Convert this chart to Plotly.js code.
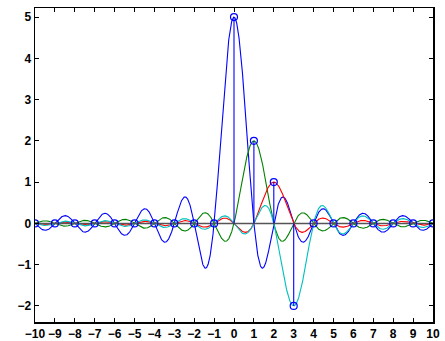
<!DOCTYPE html>
<html><head><meta charset="utf-8">
<script src="https://cdn.plot.ly/plotly-3.0.1.min.js"></script>
<style>html,body{margin:0;padding:0;background:#fff}#c{width:445px;height:341px}</style>
</head><body><div id="c"></div>
<script>
// sample positions and values
const sampleN = [-10,-9,-8,-7,-6,-5,-4,-3,-2,-1,0,1,2,3,4,5,6,7,8,9,10];
const sampleX = [0,0,0,0,0,0,0,0,0,0,5,2,1,-2,0,0,0,0,0,0,0];
// nonzero samples each drawing its own sinc pulse, with its colour
const pulseN = [0, 1, 2, 3];
const pulseA = [5, 2, 1, -2];
const pulseColors = ['#0000ff', '#008000', '#ff0000', '#00bfbf'];
const xTicks = [-10,-9,-8,-7,-6,-5,-4,-3,-2,-1,0,1,2,3,4,5,6,7,8,9,10];
const yTicks = [-2,-1,0,1,2,3,4,5];

function sinc(v){ return v === 0 ? 1 : Math.sin(Math.PI*v)/(Math.PI*v); }
const t = [];
for (let i = 0; i <= 2000; i++) t.push(-10 + i*0.01);

const traces = [];
pulseN.forEach((n, k) => {
  traces.push({x: t, y: t.map(v => pulseA[k]*sinc(v - n)), mode: 'lines',
    line: {color: pulseColors[k], width: 1.1}, hoverinfo: 'skip'});
});
// baseline
traces.push({x: [sampleN[0], sampleN[sampleN.length-1]], y: [0, 0], mode: 'lines',
  line: {color: '#555555', width: 1.5}});
// stems
const sx = [], sy = [];
sampleN.forEach((n, i) => { sx.push(n, n, null); sy.push(0, sampleX[i], null); });
traces.push({x: sx, y: sy, mode: 'lines', line: {color: '#0000ff', width: 1.1}});
traces.push({x: sampleN, y: sampleX, mode: 'markers',
  marker: {symbol: 'circle-open', size: 7, color: '#0000ff', line: {width: 1.2, color: '#0000ff'}}});

const axFont = {family: 'Liberation Sans, Arial, sans-serif', size: 12, color: '#000', weight: 'bold'};
const layout = {
  width: 445, height: 341,
  margin: {l: 35, r: 12, t: 8, b: 19},
  showlegend: false,
  paper_bgcolor: '#fff', plot_bgcolor: '#fff',
  xaxis: {range: [-10, 10], tickvals: xTicks, ticks: 'inside', ticklen: 4, tickwidth: 1,
    tickcolor: '#000', showline: true, linecolor: '#000', linewidth: 1.5, mirror: 'ticks',
    showgrid: false, zeroline: false, tickfont: axFont},
  yaxis: {range: [-2.39, 5.22], tickvals: yTicks, ticks: 'inside', ticklen: 4, tickwidth: 1,
    tickcolor: '#000', showline: true, linecolor: '#000', linewidth: 1.5, mirror: 'ticks',
    showgrid: false, zeroline: false, tickfont: axFont}
};
Plotly.newPlot('c', traces, layout, {staticPlot: true});
</script></body></html>
